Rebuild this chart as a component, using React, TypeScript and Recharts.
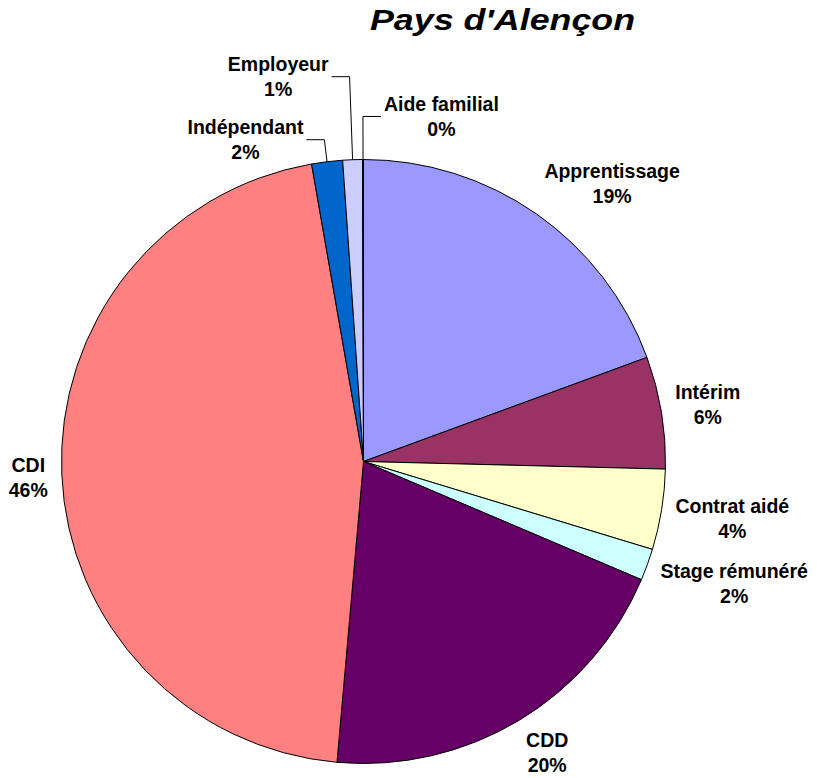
import React from "react";
import { PieChart, Pie, Cell } from "recharts";

const TITLE = "Pays d'Alençon";
const CATEGORIES = [
  "Apprentissage",
  "Intérim",
  "Contrat aidé",
  "Stage rémunéré",
  "CDD",
  "CDI",
  "Indépendant",
  "Employeur",
  "Aide familial",
];
const SHARES = [19.4, 6.0, 4.3, 1.7, 20.0, 45.85, 1.65, 1.05, 0.05];
const COLORS = [
  "#9999FF",
  "#993366",
  "#FFFFCC",
  "#CCFFFF",
  "#660066",
  "#FF8080",
  "#0066CC",
  "#CCCCFF",
  "#000080",
];

// label layout for the thin slices that get leader lines (rise in px, side -1 left / +1 right)
const LEADER_LABELS: Record<string, { rise: number; side: number }> = {
  "Indépendant": { rise: 22, side: -1 },
  "Employeur": { rise: 83, side: -1 },
  "Aide familial": { rise: 43, side: 1 },
};

const data = CATEGORIES.map((name, i) => ({ name, value: SHARES[i] }));

const FONT = '"Liberation Sans", Arial, sans-serif';
const LABEL_SIZE = 19.5;
const LINE_GAP = 25;
const BLOCK_H = 39;
const RAD = Math.PI / 180;

let ctx: CanvasRenderingContext2D | null = null;
function measure(text: string): number {
  try {
    if (!ctx) {
      const c = document.createElement("canvas");
      ctx = c.getContext("2d");
    }
    if (ctx) {
      ctx.font = `bold ${LABEL_SIZE}px "Liberation Sans", Arial, sans-serif`;
      return ctx.measureText(text).width;
    }
  } catch (e) {}
  return text.length * LABEL_SIZE * 0.58;
}

const clamp = (v: number) => Math.max(-1, Math.min(1, v));

function renderLabel(props: any) {
  const { cx, cy, midAngle, outerRadius, percent, index } = props;
  const name = CATEGORIES[index];
  const pct = `${Math.round(percent * 100)}%`;
  const ux = Math.cos(-midAngle * RAD);
  const uy = Math.sin(-midAngle * RAD);
  const w = Math.max(measure(name), measure(pct));
  const leader = LEADER_LABELS[name];
  let bx: number;
  let b1: number;
  let path: string | null = null;
  if (leader) {
    const ex = cx + ux * outerRadius;
    const ey = cy + uy * outerRadius;
    const t = leader.rise / Math.abs(uy);
    const kx = ex + ux * t;
    const ky = ey + uy * t;
    const endX = kx + leader.side * 18;
    path = `M${ex},${ey}L${kx},${ky}L${endX},${ky}`;
    bx = endX + leader.side * (3 + w / 2);
    b1 = ky - 6;
  } else {
    const r = outerRadius + 14;
    const px = cx + ux * r;
    const py = cy + uy * r;
    bx = px + clamp(2 * ux) * (w / 2);
    const by = py + clamp(2 * uy) * (BLOCK_H / 2);
    b1 = by - 5;
  }
  return (
    <g key={`lbl-${index}`}>
      {path && <path d={path} stroke="#000" strokeWidth={1} fill="none" />}
      <text
        textAnchor="middle"
        fontFamily={FONT}
        fontWeight="bold"
        fontSize={LABEL_SIZE}
        fill="#000"
      >
        <tspan x={bx} y={b1}>
          {name}
        </tspan>
        <tspan x={bx} y={b1 + LINE_GAP}>
          {pct}
        </tspan>
      </text>
    </g>
  );
}

export default function App() {
  return (
    <div
      style={{
        position: "absolute",
        left: 0,
        top: 0,
        width: 818,
        height: 778,
        background: "#fff",
      }}
    >
      <PieChart width={818} height={778} margin={{ top: 0, right: 0, bottom: 0, left: 0 }}>
        <Pie
          data={data}
          dataKey="value"
          nameKey="name"
          cx={363.5}
          cy={461.5}
          outerRadius={302}
          startAngle={90}
          endAngle={-270}
          stroke="#000"
          strokeWidth={1}
          label={renderLabel}
          labelLine={false}
          isAnimationActive={false}
        >
          {data.map((d, i) => (
            <Cell key={d.name} fill={COLORS[i]} stroke="#000" strokeWidth={1} />
          ))}
        </Pie>
      </PieChart>
      <svg
        width={818}
        height={60}
        style={{ position: "absolute", left: 0, top: 0, pointerEvents: "none" }}
      >
        <text
          x={502.5}
          y={30}
          textAnchor="middle"
          fontFamily={FONT}
          fontWeight="bold"
          fontStyle="italic"
          fontSize={29}
          textLength={265}
          lengthAdjust="spacingAndGlyphs"
          fill="#000"
        >
          {TITLE}
        </text>
      </svg>
    </div>
  );
}
